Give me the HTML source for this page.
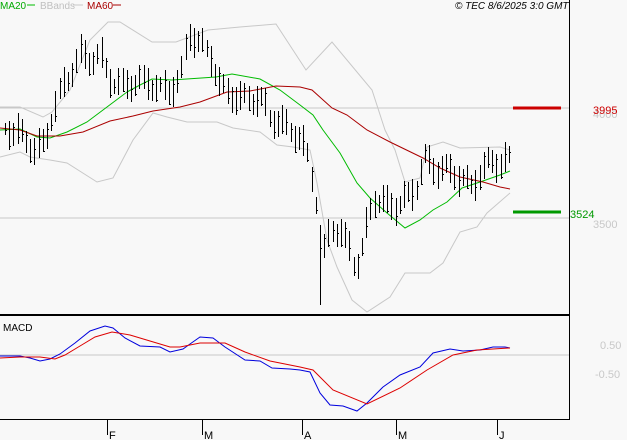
<!DOCTYPE html>
<html><head><meta charset="utf-8"><style>
html,body{margin:0;padding:0;background:#f8f8f8;}
svg{display:block;font-family:"Liberation Sans",sans-serif;}
</style></head><body>
<svg id="s" width="627" height="440" xmlns="http://www.w3.org/2000/svg">
<rect width="627" height="440" fill="#f8f8f8"/>
<line x1="0" y1="108" x2="569" y2="108" stroke="#c8c8c8"/>
<line x1="0" y1="218" x2="569" y2="218" stroke="#c8c8c8"/>
<line x1="0" y1="355" x2="569" y2="355" stroke="#c8c8c8"/>
<g fill="none" stroke-width="1">
<polyline stroke="#c8c8c8" points="0,107 20,107 43,117 52,112 70,90 90,40 108,22 120,22 152,42 176,42 208,30 240,27 276,24 306,70 332,42 372,90 385,130 395,150 405,182 420,178 427,147 443,142 460,148 500,147 510,150"/>
<polyline stroke="#c8c8c8" points="0,157 20,152 30,157 50,160 67,163 97,182 113,178 133,140 153,113 167,117 187,122 217,122 233,128 260,132 277,145 293,147 310,150 317,183 327,240 337,267 352,300 367,312 390,297 405,273 430,273 443,263 460,232 477,227 487,213 510,193"/>
<polyline stroke="#00bb00" points="0,130 20,129 37,137 50,138 67,132 87,122 107,107 127,92 140,85 152,79 172,80 216,77 232,74 260,79 280,90 300,105 313,115 323,130 340,153 357,183 370,198 387,213 405,228 420,220 433,210 447,202 462,188 480,182 500,175 510,171"/>
<polyline stroke="#aa0000" points="0,128 20,130 37,136 60,136 83,132 110,121 133,116 153,111 180,107 200,102 227,92 250,91 276,86 300,87 312,90 332,108 347,115 367,130 390,142 423,158 440,168 460,177 483,182 500,187 510,189"/>
<polyline stroke="#0000dd" points="0,356 20,356 30,358 40,361 50,359 60,354 75,343 90,331 105,326 113,328 125,338 140,346 160,347 170,352 183,349 190,344 200,337 213,338 225,347 245,360 260,361 272,368 290,369 300,370 310,372 320,393 330,405 343,406 357,411 367,403 383,387 400,375 420,367 433,353 450,349 463,351 480,350 493,347 505,347 510,348"/>
<polyline stroke="#dd0000" points="0,358 20,357 40,357 55,359 65,355 80,346 95,337 112,332 130,335 150,341 170,347 180,347 200,343 225,343 245,352 270,361 300,367 313,370 333,390 367,404 400,388 427,370 453,355 477,350 510,348"/>
</g>
<g id="bars" stroke="#000" stroke-width="1" shape-rendering="crispEdges"></g>
<line x1="0" y1="315" x2="569" y2="315" stroke="#000" stroke-width="2"/>
<line x1="569.5" y1="0" x2="569.5" y2="420" stroke="#000"/>
<line x1="0" y1="419.5" x2="569" y2="419.5" stroke="#000"/>
<g stroke="#000"><line x1="107.5" y1="419" x2="107.5" y2="435"/><line x1="202.5" y1="419" x2="202.5" y2="435"/><line x1="302.5" y1="419" x2="302.5" y2="435"/><line x1="396.5" y1="419" x2="396.5" y2="435"/><line x1="497.5" y1="419" x2="497.5" y2="435"/></g>
<g font-size="11" fill="#000"><text x="109" y="439">F</text><text x="204" y="439">M</text><text x="304" y="439">A</text><text x="398" y="439">M</text><text x="499" y="439">J</text></g>
<text x="3" y="331" font-size="10" fill="#000">MACD</text>
<line x1="513" y1="108" x2="561" y2="108" stroke="#cc0000" stroke-width="3"/>
<line x1="513" y1="212" x2="561" y2="212" stroke="#009900" stroke-width="3"/>
<g font-size="11">
<text x="593" y="118" fill="#c8c8c8">4000</text>
<text x="593" y="114" fill="#cc0000">3995</text>
<text x="593" y="228" fill="#c8c8c8">3500</text>
<text x="570" y="218" fill="#009900">3524</text>
<text x="600" y="349" fill="#c8c8c8">0.50</text>
<text x="595" y="378" fill="#c8c8c8">-0.50</text>
</g>
<g font-size="10"><text x="0" y="9" fill="#00aa00">MA20</text><line x1="27" y1="5" x2="35" y2="5" stroke="#00bb00"/>
<text x="40" y="9" fill="#c0c0c0">BBands</text><line x1="73" y1="5" x2="83" y2="5" stroke="#c8c8c8"/>
<text x="87" y="9" fill="#aa0000">MA60</text><line x1="113" y1="5" x2="121" y2="5" stroke="#aa0000"/>
<text x="455" y="9" font-style="italic" fill="#000">© TEC 8/6/2025 3:0 GMT</text></g>
</svg>
<script>
var P=[[5,130],[20,135],[35,152],[45,145],[50,120],[60,95],[70,75],[80,55],[90,62],[100,55],[110,80],[120,88],[130,85],[140,82],[150,85],[160,90],[170,92],[180,78],[190,35],[200,45],[210,55],[220,88],[230,95],[240,100],[250,100],[260,100],[270,118],[280,125],[290,130],[300,140],[308,160],[315,190],[320,245],[325,255],[330,225],[340,235],[350,250],[355,265],[360,262],[365,235],[370,210],[375,200],[385,205],[395,208],[405,200],[415,192],[425,160],[435,172],[445,170],[455,175],[465,182],[470,188],[480,175],[490,162],[500,165],[510,160]];
function at(x){for(var i=1;i<P.length;i++){if(x<=P[i][0]){var a=P[i-1],b=P[i];return a[1]+(b[1]-a[1])*(x-a[0])/(b[0]-a[0]);}}return P[P.length-1][1];}
var g=document.getElementById('bars'),h='';
for(var k=0;k<121;k++){var x=Math.round(5+k*4.2);if(x>511)break;var c=at(x)+6*Math.sin(k*1.3);var r=12+12*Math.abs(Math.sin(k*1.7))+8*Math.abs(Math.sin(k*0.6));
var hi=c-r*0.55,lo=c+r*0.45;if(x>=318&&x<=322){hi=225;lo=305;}
var cl=c+r*0.4*Math.sin(k*2.3);
h+='<line x1="'+(x+.5)+'" y1="'+hi.toFixed(0)+'" x2="'+(x+.5)+'" y2="'+lo.toFixed(0)+'"/><line x1="'+(x+1)+'" y1="'+cl.toFixed(0)+'.5" x2="'+(x+2)+'" y2="'+cl.toFixed(0)+'.5"/>';}
g.innerHTML=h;
</script>
</body></html>
